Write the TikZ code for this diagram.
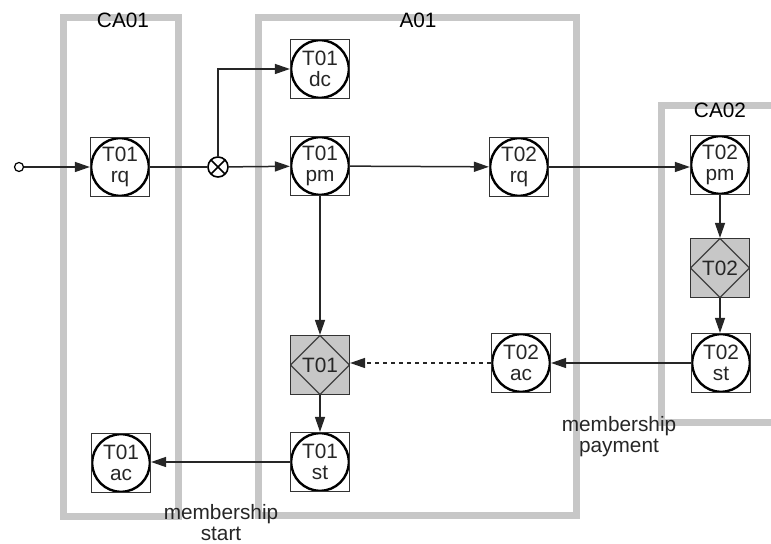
\documentclass[tikz,border=0pt]{standalone}
\usepackage{fontspec}
\setmainfont{Liberation Sans}
\usetikzlibrary{arrows.meta,positioning}

\begin{document}
\begin{tikzpicture}[x=0.5pt, y=-0.5pt, font=\fontsize{10.4}{10.5}\selectfont]
        \tikzstyle{act} = [rectangle, draw=black!80, line width=0.6pt, minimum size=29.5pt, inner sep=0pt, align=center, text=black!85, path picture={\draw[black, line width=1.2pt] (path picture bounding box.center) circle (14.4pt);}]
        \tikzstyle{cond} = [rectangle, draw=black!80, fill=black!22, line width=0.6pt, minimum size=29.5pt, inner sep=0pt, text=black!85, path picture={\draw[black!75, line width=0.6pt] (path picture bounding box.north)--(path picture bounding box.east)--(path picture bounding box.south)--(path picture bounding box.west)--cycle;}]
        \tikzstyle{unit} = [draw=black!22, line width=3.5pt]
        \tikzstyle{arrow} = [-{Triangle[length=7.5pt,width=5pt]}, line width=0.75pt, black!85]
        \useasboundingbox (0,0) rectangle (771,544);
        \clip (0,0) rectangle (771,544);
        % actor roles
        \draw[unit] (63,18) rectangle (178,517);
        \draw[unit] (258,18) rectangle (576,516);
        \draw[unit] (800,106)--(661,106)--(661,423)--(800,423);
        \node (ca1) at (123,20) {CA01};
        \node (a1) at (418,20) {A01};
        \node (ca2) at (720,110) {CA02};
        % transactions
        \node (start) [circle, draw, line width=0.6pt, minimum size=4.5pt, inner sep=0pt] at (19,167) {};
        \node (xor) [circle, draw, line width=0.8pt, minimum size=10pt, inner sep=0pt, fill=white, path picture={\draw[line width=0.8pt] (path picture bounding box.north west)--(path picture bounding box.south east) (path picture bounding box.north east)--(path picture bounding box.south west);}] at (218,167) {};
        \node (rq1) [act] at (120,167) {T01\\rq};
        \node (dc1) [act] at (320,69) {T01\\dc};
        \node (pm1) [act] at (320,166) {T01\\pm};
        \node (rq2) [act] at (519,167) {T02\\rq};
        \node (pm2) [act] at (720,165) {T02\\pm};
        \node (ex2) [cond] at (720,268) {T02};
        \node (st2) [act] at (721,363) {T02\\st};
        \node (ac2) [act] at (521,363) {T02\\ac};
        \node (ex1) [cond] at (320,365) {T01};
        \node (st1) [act] at (320,462) {T01\\st};
        \node (ac1) [act] at (121,463) {T01\\ac};
        \node (pay) [align=center, text=black!85] at (619,437) {membership\\payment};
        \node (begin) [align=center, text=black!85] at (221,523) {membership\\start};
        \draw[arrow] (start)--(rq1); \draw[black!85, line width=0.75pt] (rq1)--(xor);
        \draw[arrow] (xor)--(pm1); \draw[arrow] (xor.north)|-(dc1.west);
        \draw[arrow] (pm1)--(rq2); \draw[arrow] (rq2)--(pm2.west|-rq2);
        \draw[arrow] (pm2)--(ex2); \draw[arrow] (ex2)--(st2.north-|ex2);
        \draw[arrow] (st2)--(ac2); \draw[arrow, dashed, dash pattern=on 2.2pt off 1.8pt] (ac2)--(ex1.east|-ac2);
        \draw[arrow] (pm1)--(ex1); \draw[arrow] (ex1)--(st1);
        \draw[arrow] (st1)--(ac1.east|-st1);
    \end{tikzpicture}
\end{document}
